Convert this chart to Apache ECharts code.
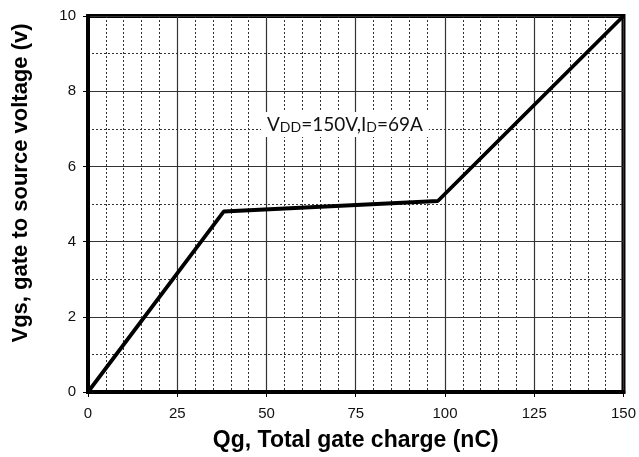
<!DOCTYPE html>
<html>
<head>
<meta charset="utf-8">
<script src="https://cdn.jsdelivr.net/npm/echarts@6/dist/echarts.min.js"></script>
<style>html,body{margin:0;padding:0;background:#fff;}#c{width:639px;height:457px;}</style>
</head>
<body>
<div id="c"></div>
<script>
// Data
const qg = [0, 38, 98, 150];          // total gate charge (nC)
const vgs = [0, 4.8, 5.08, 10];       // gate-source voltage (V)
const xTicks = [0, 25, 50, 75, 100, 125, 150];
const yTicks = [0, 2, 4, 6, 8, 10];
const xTitle = 'Qg, Total gate charge (nC)';
const yTitle = 'Vgs, gate to source voltage (v)';

const chart = echarts.init(document.getElementById('c'), null, {renderer: 'canvas'});
chart.setOption({
  animation: false,
  backgroundColor: '#fff',
  grid: {left: 88, right: 11, top: 16, bottom: 61, show: true, borderColor: '#000', borderWidth: 4, backgroundColor: 'transparent'},
  xAxis: {
    type: 'value', min: xTicks[0], max: xTicks[xTicks.length - 1], interval: 25,
    name: xTitle, nameLocation: 'middle', nameGap: 37,
    nameTextStyle: {fontFamily: 'Liberation Sans', fontWeight: 'bold', fontSize: 23, color: '#000'},
    axisLine: {show: true, lineStyle: {color: '#000', width: 4}},
    axisTick: {show: true, length: 5, lineStyle: {color: '#000', width: 1}},
    axisLabel: {fontFamily: 'Liberation Sans', fontSize: 15, color: '#111', margin: 14},
    splitLine: {show: true, lineStyle: {color: '#333', width: 1.2}},
    minorTick: {show: false, splitNumber: 5},
    minorSplitLine: {show: true, lineStyle: {color: '#333', width: 1, type: [2, 2]}}
  },
  yAxis: {
    type: 'value', min: yTicks[0], max: yTicks[yTicks.length - 1], interval: 2,
    name: yTitle, nameLocation: 'middle', nameGap: 56,
    nameTextStyle: {fontFamily: 'Liberation Sans', fontWeight: 'bold', fontSize: 22, color: '#000', padding: [0, 0, 0, 42]},
    axisLine: {show: true, lineStyle: {color: '#000', width: 4}},
    axisTick: {show: true, length: 5, lineStyle: {color: '#000', width: 1}},
    axisLabel: {fontFamily: 'Liberation Sans', fontSize: 15, color: '#111', margin: 12},
    splitLine: {show: true, lineStyle: {color: '#333', width: 1.2}},
    minorTick: {show: false, splitNumber: 2},
    minorSplitLine: {show: true, lineStyle: {color: '#333', width: 1, type: [2, 2]}}
  },
  series: [{
    type: 'line',
    data: qg.map((q, i) => [q, vgs[i]]),
    symbol: 'none',
    lineStyle: {color: '#000', width: 3.8},
    z: 5
  }],
  graphic: [{
    type: 'text',
    left: 261, top: 112,
    z: 10,
    style: {
      text: 'V{s|DD}=150V,I{s|D}=69A',
      fontFamily: 'Lato', fontSize: 19, fill: '#111',
      backgroundColor: '#fff',
      padding: [3, 6, 3, 6],
      rich: {s: {fontFamily: 'Lato', fontSize: 14, fill: '#111', verticalAlign: 'bottom', padding: [5, 0, 0, 0]}}
    }
  }]
});
</script>
</body>
</html>
